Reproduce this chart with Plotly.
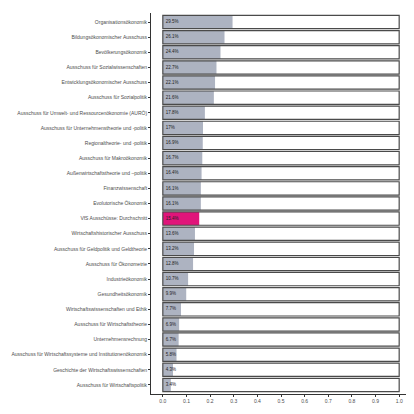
import plotly.graph_objects as go

committees = [
    "Organisationsökonomik",
    "Bildungsökonomischer Ausschuss",
    "Bevölkerungsökonomik",
    "Ausschuss für Sozialwissenschaften",
    "Entwicklungsökonomischer Ausschuss",
    "Ausschuss für Sozialpolitik",
    "Ausschuss für Umwelt- und Ressourcenökonomie (AURÖ)",
    "Ausschuss für Unternehmenstheorie und -politik",
    "Regionaltheorie- und -politik",
    "Ausschuss für Makroökonomik",
    "Außenwirtschaftstheorie und –politik",
    "Finanzwissenschaft",
    "Evolutorische Ökonomik",
    "VfS Ausschüsse: Durchschnitt",
    "Wirtschaftshistorischer Ausschuss",
    "Ausschuss für Geldpolitik und Geldtheorie",
    "Ausschuss für Ökonometrie",
    "Industrieökonomik",
    "Gesundheitsökonomik",
    "Wirtschaftswissenschaften und Ethik",
    "Ausschuss für Wirtschaftstheorie",
    "Unternehmensrechnung",
    "Ausschuss für Wirtschaftssysteme und Institutionenökonomik",
    "Geschichte der Wirtschaftswissenschaften",
    "Ausschuss für Wirtschaftspolitik",
]
shares = [0.295, 0.261, 0.244, 0.227, 0.221, 0.216, 0.178, 0.17, 0.169, 0.167,
          0.164, 0.161, 0.161, 0.154, 0.136, 0.132, 0.128, 0.107, 0.099, 0.077,
          0.069, 0.067, 0.058, 0.043, 0.034]
labels = ["29.5%", "26.1%", "24.4%", "22.7%", "22.1%", "21.6%", "17.8%", "17%",
          "16.9%", "16.7%", "16.4%", "16.1%", "16.1%", "15.4%", "13.6%", "13.2%",
          "12.8%", "10.7%", "9.9%", "7.7%", "6.9%", "6.7%", "5.8%", "4.3%", "3.4%"]
highlight = "VfS Ausschüsse: Durchschnitt"

grey = "#adb3c1"
pink = "#e0157a"
colors = [pink if c == highlight else grey for c in committees]

fig = go.Figure()
# white background bars up to 100%
fig.add_trace(go.Bar(y=committees, x=[1] * len(committees), orientation="h",
                     marker=dict(color="white", line=dict(width=0)), width=0.88,
                     hoverinfo="skip", showlegend=False))
# actual share
fig.add_trace(go.Bar(y=committees, x=shares, orientation="h",
                     marker=dict(color=colors, line=dict(width=0)), width=0.88,
                     showlegend=False))
# outline on top
fig.add_trace(go.Bar(y=committees, x=[1] * len(committees), orientation="h",
                     marker=dict(color="rgba(0,0,0,0)", line=dict(color="#4a4a4a", width=1.2)),
                     width=0.88, hoverinfo="skip", showlegend=False))
fig.add_trace(go.Scatter(y=committees, x=[0.012] * len(committees), mode="text",
                         text=labels, textposition="middle right",
                         textfont=dict(size=4.5, color="#222222", family="Liberation Sans"),
                         hoverinfo="skip", showlegend=False))

# page body has an 8px margin, so the figure is a bit smaller than the window
fig.update_layout(
    barmode="overlay",
    width=406, height=406,
    margin=dict(l=143, r=3, t=5, b=20),
    plot_bgcolor="white", paper_bgcolor="white",
    font=dict(family="Liberation Sans", size=5, color="#4d4d4d"),
    xaxis=dict(range=[-0.05, 1.05], tickvals=[i / 10 for i in range(11)],
               ticktext=[f"{i / 10:.1f}" for i in range(11)], automargin=False,
               showgrid=False, zeroline=False, showline=True, linecolor="#333333",
               linewidth=0.8, ticks="outside", ticklen=2, tickcolor="#333333",
               tickfont=dict(size=5, color="#4d4d4d")),
    yaxis=dict(categoryorder="array", categoryarray=committees[::-1], automargin=False,
               showgrid=False, zeroline=False, showline=True, linecolor="#333333",
               linewidth=0.8, ticks="outside", ticklen=2, tickcolor="#333333",
               tickfont=dict(size=5, color="#4d4d4d"), range=[-0.6, 24.6]),
)

fig.write_html("out.html")
